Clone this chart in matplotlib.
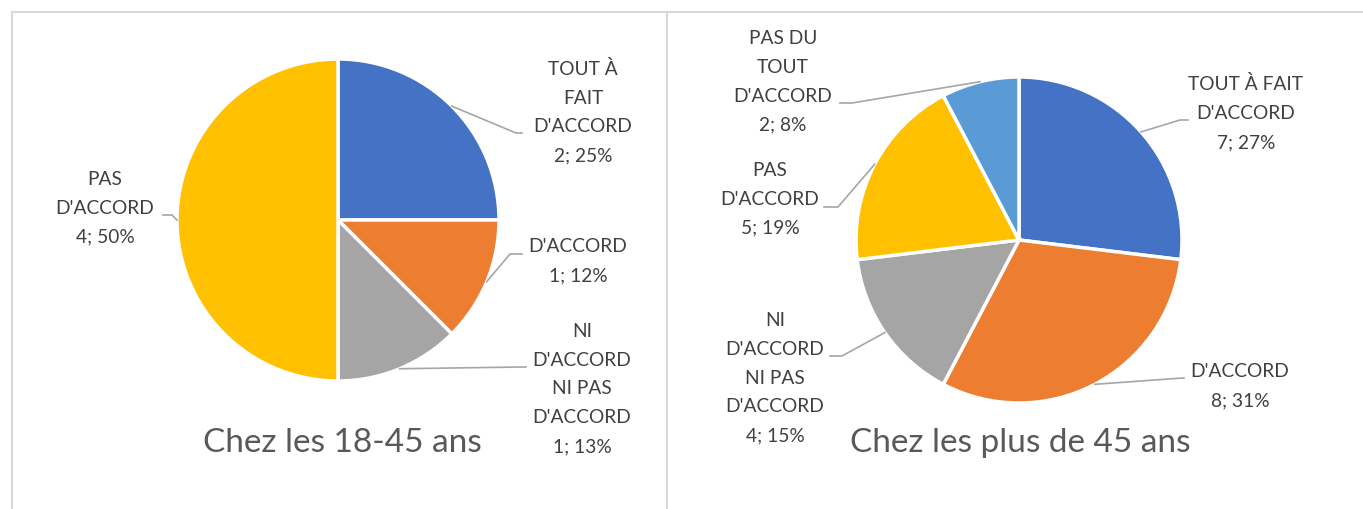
import numpy as np
import matplotlib.pyplot as plt
from matplotlib.lines import Line2D

W, H = 1363, 509

# données : avis des répondants par tranche d'âge
categories = ["TOUT À FAIT D'ACCORD", "D'ACCORD", "NI D'ACCORD NI PAS D'ACCORD",
              "PAS D'ACCORD", "PAS DU TOUT D'ACCORD"]
colors = ['#4472C4', '#ED7D31', '#A5A5A5', '#FFC000', '#5B9BD5']

jeunes_vals = [2, 1, 1, 4]
jeunes_pct = [25, 12, 13, 50]
jeunes_labels = ["TOUT À\nFAIT\nD'ACCORD", "D'ACCORD", "NI\nD'ACCORD\nNI PAS\nD'ACCORD",
                 "PAS\nD'ACCORD"]

seniors_vals = [7, 8, 4, 5, 2]
seniors_pct = [27, 31, 15, 19, 8]
seniors_labels = ["TOUT À FAIT\nD'ACCORD", "D'ACCORD", "NI\nD'ACCORD\nNI PAS\nD'ACCORD",
                  "PAS\nD'ACCORD", "PAS DU\nTOUT\nD'ACCORD"]

titles = ["Chez les 18-45 ans", "Chez les plus de 45 ans"]

plt.rcParams['font.family'] = ['Lato', 'DejaVu Sans']

fig = plt.figure(figsize=(W / 100, H / 100), dpi=100)
ax = fig.add_axes([0, 0, 1, 1])


def Y(y):
    # positions given from the top edge
    return H - y


def draw_pie(vals, pcts, labels, center, radius, label_pos, elbows, stub_side, title, title_pos):
    wedges, _ = ax.pie(vals, colors=colors[:len(vals)], startangle=90, counterclock=False,
                       radius=radius, center=(center[0], Y(center[1])), frame=True,
                       wedgeprops=dict(edgecolor='white', linewidth=2.5))
    for w, v, p, lab, pos, elb, side in zip(wedges, vals, pcts, labels, label_pos, elbows, stub_side):
        ang = np.deg2rad((w.theta1 + w.theta2) / 2)
        x0 = center[0] + radius * np.cos(ang)
        y0 = Y(center[1]) + radius * np.sin(ang)
        ex, ey = elb[0], Y(elb[1])
        ax.add_line(Line2D([x0, ex, ex + side], [y0, ey, ey], color='#A6A6A6', lw=1.2))
        ax.text(pos[0], Y(pos[1]), f"{lab}\n{v}; {p}%", ha='center', va='center',
                fontsize=13.8, color='#404040', linespacing=1.85)
    ax.text(title_pos[0], Y(title_pos[1]), title, ha='center', va='center',
            fontsize=24, color='#595959')


draw_pie(jeunes_vals, jeunes_pct, jeunes_labels, (338, 220), 161,
         [(583, 112), (578, 261), (582, 389), (105, 208)],
         [(516, 133), (510, 254), (522, 367), (172, 215)],
         [6, 12, 4, -9], titles[0], (342, 443))

draw_pie(seniors_vals, seniors_pct, seniors_labels, (1019, 240), 163,
         [(1246, 113), (1240, 386), (775, 378), (770, 199), (783, 82)],
         [(1180, 120), (1182, 378), (842, 356), (838, 207), (852, 103)],
         [8, 2, -12, -14, -12], titles[1], (1020, 443))

# cadres des deux graphiques
for xs, ys in [([12, W], [12, 12]), ([12, 12], [12, H]), ([667, 667], [12, H])]:
    ax.add_line(Line2D(xs, [Y(v) for v in ys], color='#D9D9D9', lw=1.5))

ax.set_xlim(0, W)
ax.set_ylim(0, H)
ax.set_axis_off()

fig.savefig('out.png', dpi=100, facecolor='white')
